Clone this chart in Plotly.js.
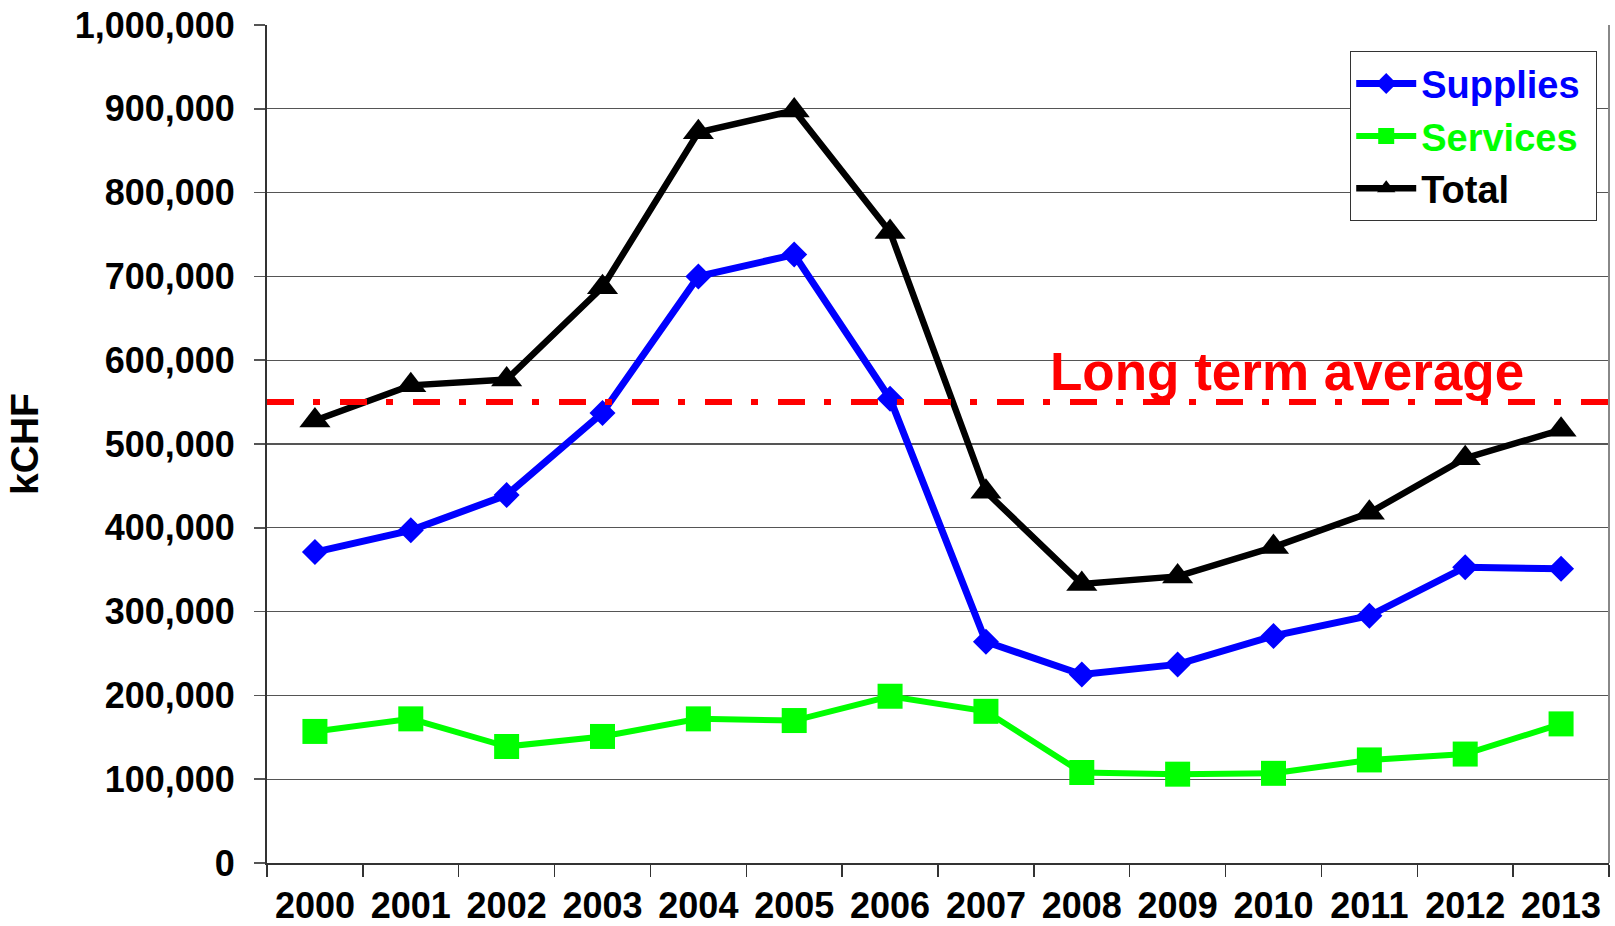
<!DOCTYPE html>
<html>
<head>
<meta charset="utf-8">
<script src="https://cdn.plot.ly/plotly-3.0.1.min.js"></script>
<style>
  html, body { margin: 0; padding: 0; background: #ffffff; }
  #chart { width: 1615px; height: 926px; }
</style>
</head>
<body>
<div id="chart"></div>
<script>
const years = ['2000','2001','2002','2003','2004','2005','2006','2007','2008','2009','2010','2011','2012','2013'];
const supplies = [371000, 397000, 439000, 537000, 700000, 726000, 554000, 264000, 225000, 237000, 271000, 295000, 353000, 351000];
const services = [157000, 172000, 139000, 151000, 172000, 170000, 199000, 181000, 108000, 106000, 107000, 123000, 130000, 166000];
const total    = [528000, 570000, 577000, 687000, 872000, 898000, 753000, 443000, 333000, 342000, 377000, 418000, 483000, 517000];
const longTermAverage = 550000;
const averageLabel = 'Long term average';
const yTickValues = [0, 100000, 200000, 300000, 400000, 500000, 600000, 700000, 800000, 900000, 1000000];
const yTickLabels = ['0', '100,000', '200,000', '300,000', '400,000', '500,000', '600,000', '700,000', '800,000', '900,000', '1,000,000'];

const FONT = 'Liberation Sans, Arial, Helvetica, sans-serif';

const traces = [
  {
    x: years, y: supplies, type: 'scatter', mode: 'lines+markers',
    name: '<span style="color:#0000ff">Supplies</span>\u00a0',
    line: { color: '#0000ff', width: 7 },
    marker: { symbol: 'diamond', size: 20, color: '#0000ff' }
  },
  {
    x: years, y: services, type: 'scatter', mode: 'lines+markers',
    name: '<span style="color:#00ff00">Services</span>\u00a0',
    line: { color: '#00ff00', width: 6 },
    marker: { symbol: 'square', size: 25, color: '#00ff00' }
  },
  {
    x: years, y: total, type: 'scatter', mode: 'lines+markers',
    name: '<span style="color:#000000">Total</span>',
    line: { color: '#000000', width: 6.5 },
    marker: { symbol: 'triangle-up', size: 27, color: '#000000' }
  }
];

const layout = {
  width: 1615, height: 926,
  margin: { l: 267, r: 6, t: 25, b: 63 },
  paper_bgcolor: '#ffffff',
  plot_bgcolor: '#ffffff',
  font: { family: FONT, color: '#000000' },
  showlegend: true,
  legend: {
    x: 0.991, xanchor: 'right', y: 0.969, yanchor: 'top',
    bgcolor: '#ffffff', bordercolor: '#333333', borderwidth: 1.3,
    font: { family: FONT, size: 38, color: '#000000', weight: 'bold' },
    itemwidth: 60,
    tracegroupgap: 0
  },
  xaxis: {
    type: 'category',
    tickmode: 'array', tickvals: years, ticktext: years,
    tickson: 'boundaries',
    ticks: 'outside', ticklen: 12, tickwidth: 1.5, tickcolor: '#333333',
    showline: true, linecolor: '#333333', linewidth: 2,
    showgrid: false, zeroline: false,
    tickfont: { family: FONT, size: 36, color: '#000000', weight: 'bold' },
    ticklabelstandoff: 10,
    range: [-0.5, 13.5]
  },
  yaxis: {
    range: [0, 1000000],
    tickmode: 'array', tickvals: yTickValues, ticktext: yTickLabels,
    ticks: 'outside', ticklen: 11, tickwidth: 1.5, tickcolor: '#555555',
    showline: true, linecolor: '#333333', linewidth: 2, mirror: false,
    showgrid: true, gridcolor: '#555555', gridwidth: 1.3,
    zeroline: false,
    tickfont: { family: FONT, size: 36, color: '#000000', weight: 'bold' },
    ticklabelstandoff: 12,
    title: { text: 'kCHF', font: { family: FONT, size: 39, color: '#000000', weight: 'bold' }, standoff: 24 }
  },
  shapes: [
    { type: 'line', xref: 'paper', yref: 'paper', x0: 1, x1: 1, y0: 0, y1: 1,
      line: { color: '#888888', width: 2 } },
    { type: 'line', xref: 'paper', yref: 'y', x0: 0, x1: 1, y0: longTermAverage, y1: longTermAverage,
      line: { color: '#ff0000', width: 6, dash: '27px,19px,7px,20px' } }
  ],
  annotations: [
    { xref: 'paper', yref: 'paper', x: 0.760, y: 0.587, xanchor: 'center', yanchor: 'middle',
      text: averageLabel, showarrow: false,
      font: { family: FONT, size: 53, color: '#ff0000', weight: 'bold' } }
  ]
};

Plotly.newPlot('chart', traces, layout, { displayModeBar: false, staticPlot: true });
</script>
</body>
</html>
